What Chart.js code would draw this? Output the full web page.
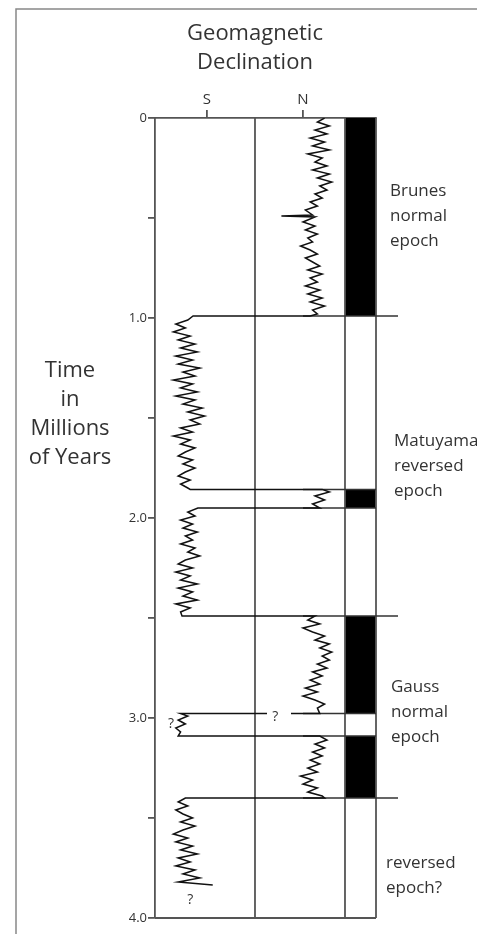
<!DOCTYPE html>
<html>
<head>
<meta charset="utf-8">
<script src="https://cdn.jsdelivr.net/npm/chart.js@4.4.1/dist/chart.umd.min.js"></script>
<style>
  html, body { margin: 0; padding: 0; background: #fff; }
  canvas { display: block; }
</style>
</head>
<body>
<canvas id="myChart" width="477" height="934"></canvas>
<script>
// age in millions of years (down the page)
const ages = [
  0.00, 0.02, 0.04, 0.06, 0.08, 0.10, 0.12, 0.14, 0.16, 0.18, 0.20, 0.22, 0.24, 0.26, 0.28, 0.30,
  0.32, 0.34, 0.36, 0.38, 0.40, 0.42, 0.44, 0.46, 0.485, 0.49, 0.495, 0.52, 0.54, 0.56, 0.58, 0.60,
  0.62, 0.64, 0.66, 0.68, 0.70, 0.72, 0.74, 0.76, 0.78, 0.80, 0.82, 0.84, 0.86, 0.88, 0.90, 0.92,
  0.94, 0.96, 0.98, 0.99,
  0.99, 1.01, 1.03, 1.05, 1.07, 1.09, 1.11, 1.13, 1.15, 1.17, 1.19, 1.21, 1.23, 1.25, 1.27, 1.29,
  1.31, 1.33, 1.35, 1.37, 1.39, 1.41, 1.43, 1.45, 1.47, 1.49, 1.51, 1.53, 1.55, 1.57, 1.59, 1.61,
  1.63, 1.65, 1.67, 1.69, 1.71, 1.73, 1.75, 1.77, 1.79, 1.81, 1.83, 1.85, 1.857,
  1.857, 1.87, 1.89, 1.91, 1.93, 1.95,
  1.95, 1.97, 1.99, 2.01, 2.03, 2.05, 2.07, 2.09, 2.11, 2.13, 2.15, 2.17, 2.19, 2.21, 2.23, 2.25,
  2.27, 2.29, 2.31, 2.33, 2.35, 2.37, 2.39, 2.41, 2.43, 2.45, 2.47, 2.49,
  2.49, 2.51, 2.53, 2.55, 2.57, 2.59, 2.61, 2.63, 2.65, 2.67, 2.69, 2.71, 2.73, 2.75, 2.77, 2.79,
  2.81, 2.83, 2.85, 2.87, 2.89, 2.91, 2.93, 2.95, 2.978, 2.978, 2.978, 2.978,
  2.978, 2.99, 3.01, 3.03, 3.05, 3.07, 3.09,
  3.09, 3.11, 3.13, 3.15, 3.17, 3.19, 3.21, 3.23, 3.25, 3.27, 3.29, 3.31, 3.33, 3.35, 3.37, 3.39, 3.40,
  3.40, 3.42, 3.44, 3.46, 3.48, 3.50, 3.52, 3.54, 3.56, 3.58, 3.60, 3.62, 3.64, 3.66, 3.68, 3.70,
  3.72, 3.74, 3.76, 3.78, 3.80, 3.82, 3.835
];
// declination, S = -1, N = +1 (null = broken line at the "?")
const declination = [
  1.45, 1.30, 1.55, 1.25, 1.50, 1.15, 1.45, 1.20, 1.55, 1.10, 1.40, 1.25, 1.50, 1.20, 1.55, 1.30,
  1.60, 1.35, 1.50, 1.25, 1.40, 1.15, 1.30, 1.05, 1.20, 0.55, 1.25, 1.00, 1.25, 1.05, 1.30, 1.10,
  1.20, 0.95, 1.15, 1.30, 1.05, 1.20, 1.35, 1.10, 1.40, 1.15, 1.30, 1.05, 1.35, 1.10, 1.40, 1.15,
  1.45, 1.20, 1.30, 1.15,
  -1.29, -1.40, -1.65, -1.45, -1.70, -1.35, -1.60, -1.25, -1.55, -1.20, -1.65, -1.30, -1.60, -1.15, -1.50, -1.25,
  -1.70, -1.30, -1.55, -1.20, -1.65, -1.25, -1.50, -1.10, -1.40, -1.05, -1.35, -1.15, -1.55, -1.30, -1.70, -1.35,
  -1.55, -1.25, -1.45, -1.60, -1.30, -1.50, -1.25, -1.45, -1.60, -1.35, -1.55, -1.40, -1.35,
  1.40, 1.55, 1.25, 1.45, 1.20, 1.35,
  -1.19, -1.40, -1.25, -1.55, -1.30, -1.50, -1.20, -1.45, -1.30, -1.55, -1.25, -1.40, -1.15, -1.45, -1.60, -1.30,
  -1.65, -1.35, -1.55, -1.20, -1.60, -1.30, -1.50, -1.20, -1.65, -1.35, -1.55, -1.52,
  1.25, 1.10, 1.35, 1.00, 1.20, 1.45, 1.25, 1.55, 1.35, 1.60, 1.40, 1.55, 1.30, 1.50, 1.20, 1.40,
  1.15, 1.35, 1.05, 1.30, 1.00, 1.25, 1.45, 1.30, 1.35, 0.75, null, 0.25,
  -1.55, -1.40, -1.60, -1.45, -1.65, -1.55, -1.60,
  1.35, 1.50, 1.25, 1.45, 1.20, 1.40, 1.15, 1.35, 1.10, 1.30, 0.95, 1.20, 1.00, 1.30, 1.10, 1.40, 1.45,
  -1.45, -1.60, -1.40, -1.65, -1.50, -1.30, -1.55, -1.25, -1.50, -1.70, -1.40, -1.65, -1.30, -1.55, -1.20, -1.60,
  -1.35, -1.65, -1.25, -1.50, -1.15, -1.60, -0.88
];

// polarity column: normal intervals (black)
const normalStart = [0, 1.857, 2.49, 3.09];
const normalEnd = [0.99, 1.95, 2.978, 3.40];
// reversal boundaries, long ones run past the column
const reversals = [0.99, 1.857, 1.95, 2.49, 2.978, 3.09, 3.40];
const longReversal = [true, false, false, true, false, false, true];

const ageTicks = [0, 0.5, 1, 1.5, 2, 2.5, 3, 3.5, 4];
const ageLabels = ['0', '', '1.0', '', '2.0', '', '3.0', '', '4.0'];

const epochNames = [
  ['Brunes', 'normal', 'epoch'],
  ['Matuyama', 'reversed', 'epoch'],
  ['Gauss', 'normal', 'epoch'],
  ['reversed', 'epoch?']
];
const epochAges = [0.49, 1.74, 2.97, 3.79];
const epochLeft = [390, 394, 391, 386];

const queryAges = [2.995, 3.03, 3.91];
const queryDecl = [0.42, -1.75, -1.35];

const points = ages.map((a, i) => ({ x: declination[i], y: a }));

const LINE = '#555';
const TEXT = '#333';

const overlay = {
  id: 'overlay',
  beforeDatasetsDraw(chart) {
    const { ctx, chartArea: ca, scales: { x, y } } = chart;
    const colL = x.getPixelForValue(1.875);
    ctx.save();
    // black polarity bands
    ctx.fillStyle = '#000';
    normalStart.forEach((s, i) => {
      const y0 = y.getPixelForValue(s), y1 = y.getPixelForValue(normalEnd[i]);
      ctx.fillRect(colL, y0, ca.right - colL, y1 - y0);
    });
    ctx.strokeStyle = LINE;
    ctx.lineWidth = 1.8;
    ctx.beginPath();
    // divider, column edge, right and bottom frame
    const mid = x.getPixelForValue(0);
    ctx.moveTo(mid, ca.top); ctx.lineTo(mid, ca.bottom);
    ctx.moveTo(colL, ca.top); ctx.lineTo(colL, ca.bottom);
    ctx.moveTo(ca.right, ca.top); ctx.lineTo(ca.right, ca.bottom);
    ctx.moveTo(ca.left, ca.bottom); ctx.lineTo(ca.right, ca.bottom);
    ctx.stroke();
    ctx.strokeStyle = '#333';
    ctx.lineWidth = 1.5;
    ctx.beginPath();
    reversals.forEach((r, i) => {
      const py = y.getPixelForValue(r);
      ctx.moveTo(x.getPixelForValue(1.0), py);
      ctx.lineTo(ca.right + (longReversal[i] ? 22 : 0), py);
    });
    ctx.stroke();
    // outer frame
    ctx.strokeStyle = '#888';
    ctx.lineWidth = 1.5;
    ctx.beginPath();
    ctx.moveTo(16, chart.height); ctx.lineTo(16, 9); ctx.lineTo(chart.width, 9);
    ctx.stroke();
    ctx.restore();
  },
  afterDraw(chart) {
    const { ctx, scales: { x, y } } = chart;
    ctx.save();
    ctx.fillStyle = TEXT;
    ctx.textAlign = 'center';
    ctx.textBaseline = 'middle';
    ctx.font = '22px "Open Sans"';
    const cx = x.getPixelForValue(0);
    ctx.fillText('Geomagnetic', cx, 34);
    ctx.fillText('Declination', cx, 63);
    ['Time', 'in', 'Millions', 'of Years'].forEach((t, i) => ctx.fillText(t, 70, 371 + i * 29));
    ctx.textAlign = 'left';
    ctx.font = '17px "Open Sans"';
    epochNames.forEach((lines, i) => {
      const cy = y.getPixelForValue(epochAges[i]);
      const top = cy - (lines.length - 1) * 12.5;
      lines.forEach((t, j) => ctx.fillText(t, epochLeft[i], top + j * 25));
    });
    ctx.textAlign = 'center';
    ctx.font = '14px "Open Sans"';
    queryAges.forEach((a, i) => ctx.fillText('?', x.getPixelForValue(queryDecl[i]), y.getPixelForValue(a)));
    ctx.restore();
  }
};

new Chart(document.getElementById('myChart').getContext('2d'), {
  type: 'line',
  data: {
    datasets: [{
      data: points,
      borderColor: '#111',
      borderWidth: 1.5,
      pointRadius: 0,
      tension: 0,
      spanGaps: false
    }]
  },
  options: {
    responsive: false,
    animation: false,
    devicePixelRatio: 1,
    layout: { padding: { top: 0, left: 0, right: 101, bottom: 16 } },
    plugins: { legend: { display: false }, tooltip: { enabled: false } },
    scales: {
      x: {
        type: 'linear',
        position: 'top',
        min: -2.083,
        max: 2.521,
        afterBuildTicks: axis => { axis.ticks = [{ value: -1 }, { value: 1 }]; },
        afterFit: axis => { axis.height = 118; },
        ticks: {
          callback: v => (v < 0 ? 'S' : 'N'),
          color: TEXT,
          font: { family: 'Open Sans', size: 15 },
          padding: 1
        },
        grid: { drawOnChartArea: false, tickLength: 8, color: LINE, lineWidth: 1.8 },
        border: { display: true, color: LINE, width: 1.8 }
      },
      y: {
        type: 'linear',
        reverse: true,
        min: 0,
        max: 4,
        afterBuildTicks: axis => { axis.ticks = ageTicks.map(v => ({ value: v })); },
        afterFit: axis => { axis.width = 155; },
        ticks: {
          autoSkip: false,
          callback: (v, i) => ageLabels[i],
          color: TEXT,
          font: { family: 'Open Sans', size: 13 },
          padding: 1
        },
        grid: { drawOnChartArea: false, tickLength: 7, color: LINE, lineWidth: 1.8 },
        border: { display: true, color: LINE, width: 1.8 }
      }
    }
  },
  plugins: [overlay]
});
</script>
</body>
</html>
